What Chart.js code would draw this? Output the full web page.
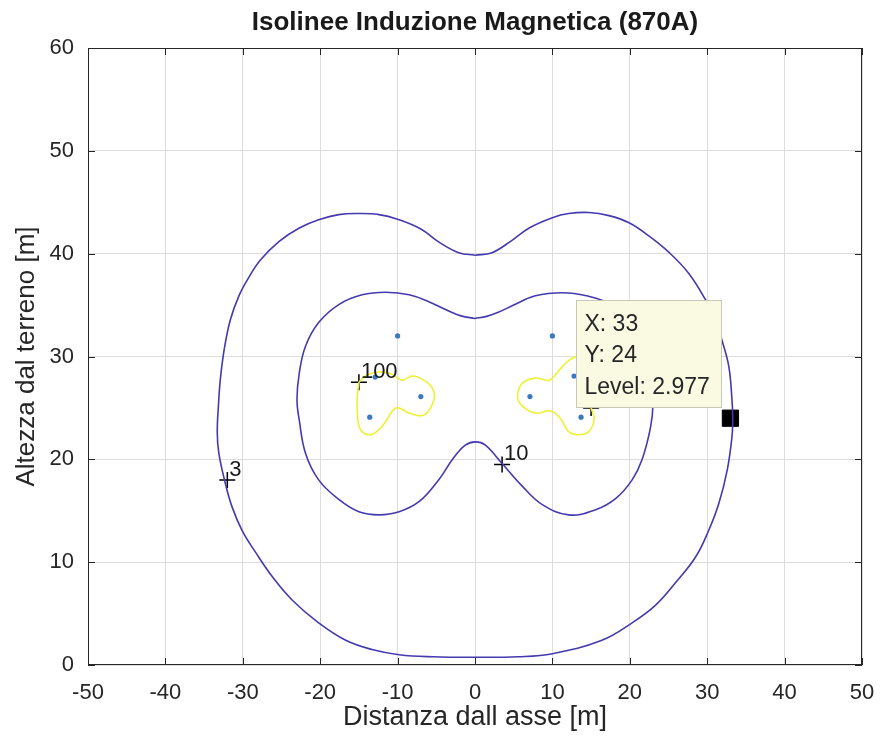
<!DOCTYPE html>
<html>
<head>
<meta charset="utf-8">
<script src="https://cdn.jsdelivr.net/npm/chart.js@4.4.0/dist/chart.umd.min.js"></script>
<style>
  html, body { margin: 0; padding: 0; background: #fff; }
  #wrap { width: 884px; height: 742px; }
</style>
</head>
<body>
<div id="wrap"><canvas id="isoChart" width="884" height="742"></canvas></div>
<script>
// contour at level 3 (outer)
const level3 = [
  [0, 39.85], [-2.1, 40.1], [-4.6, 41.1], [-7.0, 42.4], [-10, 43.35], [-12.4, 43.8], [-15, 43.9],
  [-17.6, 43.8], [-20.2, 43.3], [-22.7, 42.5], [-25.3, 41.2], [-27.7, 39.4], [-29.3, 37.6],
  [-30.5, 35.9], [-31.6, 33.6], [-32.4, 30.7], [-32.9, 27.8], [-33.15, 25.2], [-33.3, 22.6],
  [-33.1, 20.6], [-32.3, 17.8], [-31.4, 15.4], [-30.1, 13.1], [-28.3, 10.9], [-26.2, 8.6],
  [-23.6, 6.3], [-20.2, 4.1], [-16.7, 2.4], [-13.3, 1.5], [-9.8, 1.0], [-5.5, 0.8], [0, 0.75],
  [5.5, 0.8], [10, 1.1], [16.4, 2.4], [20.3, 4.1], [23.3, 5.8], [25.9, 8.0], [28.5, 10.5],
  [30.2, 13.1], [31.5, 15.7], [32.6, 19.0], [33.2, 22.2], [33.3, 24.0], [33.2, 25.8], [32.8, 29.0],
  [31.9, 31.6], [31.1, 33.6], [29.8, 35.5], [27.6, 38.1], [25.1, 40.1], [22.5, 41.7], [19.9, 43.0],
  [17.3, 43.7], [14.7, 44.0], [12.1, 43.9], [10, 43.5], [7.0, 42.5], [4.6, 41.2], [2.2, 40.1],
  [0, 39.85]
];

// contour at level 10 (inner)
const level10 = [
  [0, 33.7], [-1.8, 33.95], [-3.6, 34.5], [-5.9, 35.3], [-8.5, 36.0], [-11.5, 36.25], [-14.6, 36.0],
  [-17.6, 35.05], [-20.2, 33.3], [-21.9, 31.0], [-22.7, 28.4], [-23.0, 25.8], [-22.7, 23.8],
  [-21.9, 20.6], [-20.2, 18.0], [-17.6, 16.1], [-15.0, 14.9], [-12.4, 14.6], [-9.8, 14.9],
  [-7.2, 15.9], [-4.7, 18.0], [-2.9, 20.0], [-1.3, 21.35], [0, 21.7], [1.3, 21.4], [3.5, 19.6],
  [6.1, 17.4], [8.7, 15.6], [12.1, 14.6], [15.6, 15.1], [18.2, 16.2], [20.3, 18.0], [21.6, 20.0],
  [22.7, 23.2], [23.0, 25.5], [22.8, 28.2], [21.9, 31.0], [20.2, 33.3], [17.6, 35.05], [14.4, 35.9],
  [11.3, 36.2], [7.8, 35.9], [5.0, 35.0], [3.0, 34.3], [1.5, 33.9], [0, 33.7]
];

// contours at level 100 (around the conductors)
const level100Left = [
  [-15, 27.5], [-15.2, 26.2], [-15.2, 24.5], [-14.8, 22.9], [-13.5, 22.4], [-12.0, 23.2],
  [-10.2, 25.0], [-8.5, 24.5], [-6.6, 24.3], [-5.3, 25.8], [-5.5, 26.9], [-6.6, 27.7],
  [-8.1, 28.1], [-9.4, 27.7], [-10.8, 28.3], [-12.4, 28.5], [-14, 28.2], [-15, 27.5]
];
const level100Right = [
  [15, 25], [15.4, 23.9], [14.7, 22.7], [13.4, 22.4], [12.1, 22.7], [11.1, 23.9], [9.8, 24.7],
  [7.8, 24.5], [6.1, 25.2], [5.5, 26.1], [6.1, 27.4], [7.8, 27.9], [9.6, 27.7], [10.9, 28.7],
  [12.1, 29.6], [13.4, 30.0], [14.5, 29.2], [15.0, 27.5], [15, 25]
];

// conductor positions
const condX = [-10, -12.9, -7, -13.6, 10, 12.8, 7.1, 13.7];
const condY = [32, 28, 26.1, 24.1, 32, 28.1, 26.1, 24.1];

// clabel markers and their texts
const labelX = [-15, 3.5, -32, 15];
const labelY = [27.5, 19.5, 18, 25];
const labelText = ['100', '10', '3', '100'];

// data tip
const tipX = 33;
const tipY = 24;
const tipLevel = 2.977;

const xTicks = [-50, -40, -30, -20, -10, 0, 10, 20, 30, 40, 50];
const yTicks = [0, 10, 20, 30, 40, 50, 60];

const FONT = "'Liberation Sans', Arial, Helvetica, sans-serif";
const lineBlue = 'rgb(68,58,176)';
const lineYellow = 'rgb(240,240,50)';

const toPts = (arr) => arr.map(p => ({ x: p[0], y: p[1] }));

const decorations = {
  id: 'decorations',
  afterDatasetsDraw(chart) {
    const { ctx, chartArea: a, scales: { x, y } } = chart;
    ctx.save();

    // contour labels
    ctx.fillStyle = '#1a1a1a';
    ctx.font = '22px ' + FONT;
    ctx.textAlign = 'left';
    ctx.textBaseline = 'alphabetic';
    for (let i = 0; i < labelX.length; i++) {
      const px = x.getPixelForValue(labelX[i]);
      const py = y.getPixelForValue(labelY[i]);
      ctx.fillText(labelText[i], px + 2, py - 4);
    }

    // data tip box
    const tx = x.getPixelForValue(tipX);
    const ty = y.getPixelForValue(tipY);
    const bx = Math.round(tx - 154) + 0.5;
    const by = Math.round(ty - 118) + 0.5;
    ctx.fillStyle = '#fafae3';
    ctx.strokeStyle = '#c8c8b4';
    ctx.lineWidth = 1;
    ctx.fillRect(bx, by, 145, 107);
    ctx.strokeRect(bx, by, 145, 107);
    ctx.fillStyle = '#262626';
    ctx.font = '23px ' + FONT;
    ctx.textBaseline = 'middle';
    ctx.fillText('X: ' + tipX, bx + 8, by + 24);
    ctx.fillText('Y: ' + tipY, bx + 8, by + 55);
    ctx.fillText('Level: ' + tipLevel, bx + 8, by + 87);

    // axes box and inward ticks
    ctx.strokeStyle = '#262626';
    ctx.lineWidth = 1;
    ctx.strokeRect(a.left + 0.5, a.top + 0.5, a.width - 1, a.height - 1);
    ctx.beginPath();
    xTicks.forEach(v => {
      const px = Math.round(x.getPixelForValue(v)) + 0.5;
      ctx.moveTo(px, a.top); ctx.lineTo(px, a.top + 7);
      ctx.moveTo(px, a.bottom); ctx.lineTo(px, a.bottom - 7);
    });
    yTicks.forEach(v => {
      const py = Math.round(y.getPixelForValue(v)) + 0.5;
      ctx.moveTo(a.left, py); ctx.lineTo(a.left + 7, py);
      ctx.moveTo(a.right, py); ctx.lineTo(a.right - 7, py);
    });
    ctx.stroke();

    // titles
    ctx.fillStyle = '#1a1a1a';
    ctx.textAlign = 'center';
    ctx.textBaseline = 'middle';
    ctx.font = 'bold 26px ' + FONT;
    ctx.fillText('Isolinee Induzione Magnetica (870A)', (a.left + a.right) / 2, 23);
    ctx.fillStyle = '#262626';
    ctx.font = '27px ' + FONT;
    ctx.fillText('Distanza dall asse [m]', (a.left + a.right) / 2, 718);
    ctx.translate(27, (a.top + a.bottom) / 2);
    ctx.rotate(-Math.PI / 2);
    ctx.font = '26px ' + FONT;
    ctx.fillText('Altezza dal terreno [m]', 0, 0);
    ctx.restore();
  }
};

const lineSet = (data, color) => ({
  data: toPts(data),
  showLine: true,
  borderColor: color,
  borderWidth: 1.6,
  pointRadius: 0,
  tension: 0.4,
  fill: false
});

new Chart(document.getElementById('isoChart').getContext('2d'), {
  type: 'scatter',
  data: {
    datasets: [
      lineSet(level3, lineBlue),
      lineSet(level10, lineBlue),
      lineSet(level100Left, lineYellow),
      lineSet(level100Right, lineYellow),
      {
        data: condX.map((v, i) => ({ x: v, y: condY[i] })),
        pointRadius: 2.6,
        backgroundColor: '#3a7ac0',
        borderWidth: 0
      },
      {
        data: labelX.map((v, i) => ({ x: v, y: labelY[i] })),
        pointStyle: 'cross',
        pointRadius: 8,
        borderColor: '#000',
        borderWidth: 1.5
      },
      {
        data: [{ x: tipX, y: tipY }],
        pointStyle: 'rect',
        pointRadius: 11.5,
        backgroundColor: '#000',
        borderColor: '#000',
        borderWidth: 1
      }
    ]
  },
  options: {
    responsive: false,
    animation: false,
    layout: { padding: { top: 48, right: 22, left: 0, bottom: 0 } },
    plugins: { legend: { display: false }, tooltip: { enabled: false }, title: { display: false } },
    scales: {
      x: {
        type: 'linear',
        min: -50, max: 50,
        afterBuildTicks: (s) => { s.ticks = xTicks.map(v => ({ value: v })); },
        afterFit: (s) => { s.height = 77; s.paddingLeft = 0; s.paddingRight = 0; },
        grid: { color: '#dddddd', lineWidth: 1, drawTicks: false },
        border: { display: false },
        ticks: { color: '#262626', font: { family: FONT, size: 22 }, padding: 15 }
      },
      y: {
        type: 'linear',
        min: 0, max: 60,
        afterBuildTicks: (s) => { s.ticks = yTicks.map(v => ({ value: v })); },
        afterFit: (s) => { s.width = 88; s.paddingTop = 0; s.paddingBottom = 0; },
        grid: { color: '#dddddd', lineWidth: 1, drawTicks: false },
        border: { display: false },
        ticks: { color: '#262626', font: { family: FONT, size: 22 }, padding: 14 }
      }
    }
  },
  plugins: [decorations]
});
</script>
</body>
</html>
